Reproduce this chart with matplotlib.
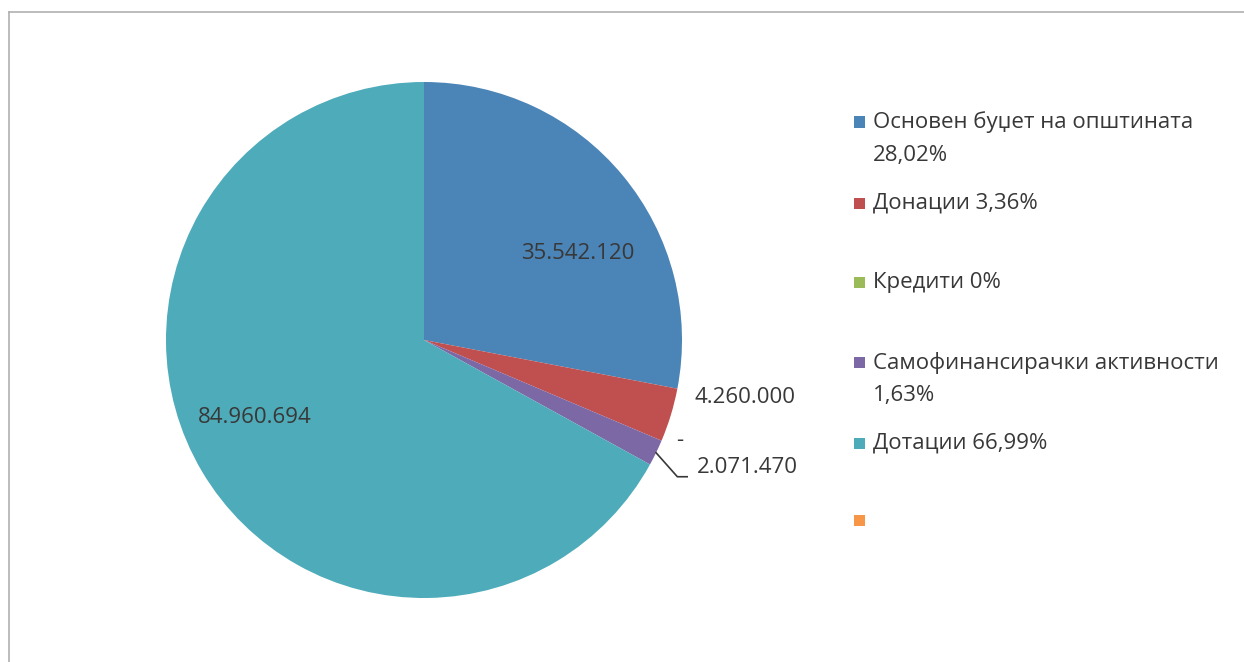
import numpy as np
import matplotlib
matplotlib.use("Agg")
import matplotlib.pyplot as plt
from matplotlib.patches import Rectangle

# budget sources (denars)
categories = ["Основен буџет на општината", "Донации", "Кредити",
              "Самофинансирачки активности", "Дотации", ""]
values = [35542120, 4260000, 0, 2071470, 84960694, 0]
value_labels = ["35.542.120", "4.260.000", "-", "2.071.470", "84.960.694", ""]
legend_labels = ["Основен буџет на општината\n28,02%", "Донации 3,36%", "Кредити 0%",
                 "Самофинансирачки активности\n1,63%", "Дотации 66,99%", ""]
colors = ["#4b84b6", "#c0504f", "#9bbb59", "#7d68a6", "#4eabba", "#f79646"]

plt.rcParams['font.family'] = ['Open Sans', 'DejaVu Sans']
txt_color = "#383838"
fs = 16

W, H = 1244, 662
fig = plt.figure(figsize=(W / 100, H / 100), dpi=100)

# frame around the chart
fig.add_artist(plt.Line2D([9 / W, 9 / W], [0, 1 - 12 / H], color="#b0b0b0", lw=1.2))
fig.add_artist(plt.Line2D([9 / W, 1], [1 - 12 / H, 1 - 12 / H], color="#b0b0b0", lw=1.2))

cx, cy, r = 424, 340, 258
ax = fig.add_axes([(cx - r) / W, (H - cy - r) / H, 2 * r / W, 2 * r / H])
wedges, _ = ax.pie(values, colors=colors, startangle=90, counterclock=False,
                   radius=1, wedgeprops=dict(linewidth=0))
ax.set_xlim(-1, 1)
ax.set_ylim(-1, 1)
ax.set_aspect("equal")
ax.axis("off")

# data label positions (in pie radius units)
label_pos = [(0.597, 0.337), (1.244, -0.221), (0.992, -0.388), (1.255, -0.495), (-0.655, -0.302), None]
for i, lab in enumerate(value_labels):
    if label_pos[i] is None:
        continue
    x, y = label_pos[i]
    ax.text(x, y, lab, fontsize=fs, color=txt_color, ha="center", va="center", clip_on=False)

# leader line for the small purple slice
w = wedges[3]
mid = np.deg2rad((w.theta1 + w.theta2) / 2)
p0 = (np.cos(mid) * 1.0, np.sin(mid) * 1.0)
ax.plot([p0[0], 0.982, 1.02], [p0[1], -0.53, -0.53], color=txt_color, lw=1.2, clip_on=False)

# legend drawn manually
leg_y = [122, 203, 283, 363, 443, 520]
line_h = 33
for i, lab in enumerate(legend_labels):
    y = leg_y[i]
    fig.add_artist(Rectangle((854 / W, 1 - (y + 5.5) / H), 11 / W, 11 / H,
                             facecolor=colors[i], edgecolor="none"))
    for j, line in enumerate(lab.split("\n")):
        if line:
            fig.text(873 / W, 1 - (y + j * line_h) / H, line, fontsize=fs,
                     color=txt_color, ha="left", va="center")

fig.savefig("out.png", dpi=100)
